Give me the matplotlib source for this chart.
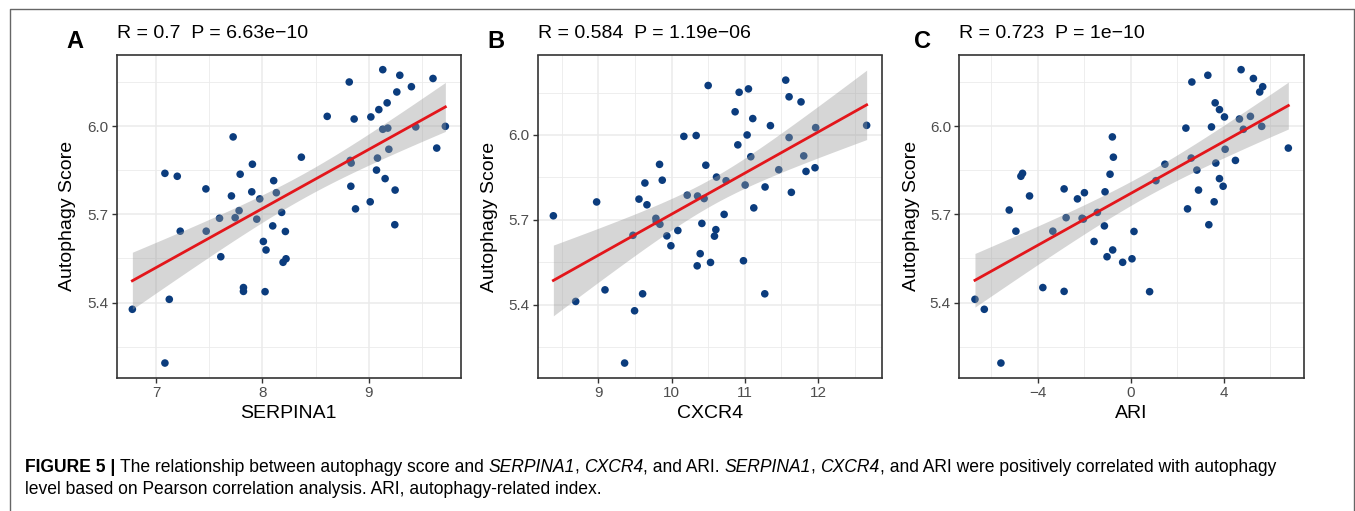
import numpy as np
import matplotlib
matplotlib.use("Agg")
import matplotlib.pyplot as plt
from matplotlib.lines import Line2D
from matplotlib.ticker import MultipleLocator

plt.rcParams["font.family"] = ["Liberation Sans", "DejaVu Sans"]

# values
serpina1 = [6.778, 7.084, 7.125, 7.084, 7.200, 7.228, 7.469, 7.472, 7.597, 7.609,
            7.709, 7.725, 7.744, 7.781, 7.791, 7.822, 7.822, 7.906, 7.900, 7.947,
            7.975, 8.009, 8.034, 8.025, 8.097, 8.106, 8.131, 8.181, 8.216, 8.194,
            8.222, 8.366, 8.609, 8.816, 8.825, 8.834, 8.831, 8.862, 8.875, 9.013,
            9.019, 9.081, 9.072, 9.094, 9.131, 9.131, 9.178, 9.172, 9.153, 9.188,
            9.247, 9.244, 9.263, 9.291, 9.400, 9.441, 9.603, 9.638, 9.719]
score_a = [5.377, 5.194, 5.411, 5.840, 5.830, 5.643, 5.787, 5.643, 5.687, 5.556,
           5.763, 5.964, 5.689, 5.713, 5.837, 5.451, 5.438, 5.871, 5.777, 5.684,
           5.753, 5.608, 5.579, 5.437, 5.661, 5.815, 5.774, 5.707, 5.642, 5.537,
           5.549, 5.895, 6.034, 6.151, 5.884, 5.875, 5.796, 6.025, 5.719, 5.743,
           6.032, 5.892, 5.851, 6.057, 6.193, 5.990, 5.994, 6.080, 5.822, 5.922,
           5.783, 5.665, 6.117, 6.174, 6.135, 5.998, 6.163, 5.926, 6.000]

cxcr4 = [8.386, 8.691, 8.977, 9.091, 9.359, 9.473, 9.495, 9.555, 9.605, 9.636,
         9.664, 9.786, 9.791, 9.841, 9.836, 9.873, 9.936, 9.991, 10.086, 10.168,
         10.214, 10.336, 10.355, 10.350, 10.391, 10.414, 10.445, 10.468, 10.500, 10.532,
         10.586, 10.605, 10.614, 10.718, 10.745, 10.868, 10.905, 10.923, 10.982, 11.005,
         11.032, 11.050, 11.082, 11.109, 11.123, 11.277, 11.273, 11.350, 11.464, 11.559,
         11.605, 11.605, 11.636, 11.768, 11.805, 11.836, 11.959, 11.968, 12.664]
score_b = [5.714, 5.411, 5.763, 5.452, 5.193, 5.645, 5.378, 5.773, 5.438, 5.830,
           5.753, 5.705, 5.694, 5.684, 5.896, 5.840, 5.643, 5.608, 5.662, 5.995,
           5.787, 5.998, 5.784, 5.537, 5.580, 5.687, 5.775, 5.893, 6.175, 5.549,
           5.642, 5.665, 5.851, 5.719, 5.838, 6.082, 5.965, 6.151, 5.555, 5.823,
           6.000, 6.163, 5.923, 6.058, 5.742, 5.816, 5.438, 6.033, 5.877, 6.194,
           6.135, 5.991, 5.797, 6.117, 5.926, 5.871, 5.884, 6.026, 6.034]

ari = [-6.710, -6.309, -5.594, -5.236, -4.950, -4.735, -4.664, -4.363, -3.791, -3.362,
       -2.876, -2.876, -2.790, -2.303, -2.103, -2.046, -2.003, -1.588, -1.445, -1.144,
       -1.116, -1.030, -0.901, -0.801, -0.758, -0.787, -0.358, 0.043, 0.129, 0.801,
       1.073, 1.459, 2.361, 2.432, 2.590, 2.618, 2.833, 2.904, 3.305, 3.348,
       3.462, 3.577, 3.620, 3.648, 3.805, 3.805, 3.963, 4.020, 4.049, 4.492,
       4.664, 4.735, 4.835, 5.136, 5.265, 5.536, 5.665, 5.622, 6.767]
score_c = [5.411, 5.377, 5.194, 5.715, 5.643, 5.830, 5.840, 5.763, 5.451, 5.643,
           5.787, 5.438, 5.689, 5.753, 5.687, 5.684, 5.774, 5.608, 5.707, 5.661,
           5.777, 5.556, 5.837, 5.964, 5.895, 5.579, 5.537, 5.549, 5.642, 5.437,
           5.815, 5.871, 5.994, 5.719, 5.892, 6.151, 5.851, 5.783, 6.174, 5.665,
           5.998, 5.743, 6.080, 5.875, 6.057, 5.822, 5.796, 6.032, 5.922, 5.884,
           6.025, 6.193, 5.990, 6.034, 6.163, 6.117, 6.135, 6.000, 5.926]

letters = ["A", "B", "C"]
titles = ["R = 0.7  P = 6.63e\u221210", "R = 0.584  P = 1.19e\u221206", "R = 0.723  P = 1e\u221210"]
xlabels = ["SERPINA1", "CXCR4", "ARI"]
xmajor = [1, 1, 4]
yticks = [5.4, 5.7, 6.0]

W, H = 1355, 511
POINT = "#0B3C7D"
RED = "#E3161B"
T975 = 2.002  # t quantile, df = 57

# panel boxes in pixels: left, right, top, bottom
boxes = [(116.7, 461.0, 55.0, 377.7), (537.7, 882.3, 55.5, 377.7), (959.3, 1304.0, 55.0, 377.7)]
letter_x = [66, 487, 914]
ylab_x = [68, 489, 911]


def fit_band(x, y, n=100):
    x = np.asarray(x)
    y = np.asarray(y)
    b, a = np.polyfit(x, y, 1)
    xs = np.linspace(x.min(), x.max(), n)
    s = np.sqrt(np.sum((y - a - b * x) ** 2) / (len(x) - 2))
    se = s * np.sqrt(1 / len(x) + (xs - x.mean()) ** 2 / np.sum((x - x.mean()) ** 2))
    fit = a + b * xs
    return xs, fit, fit - T975 * se, fit + T975 * se


def expand(lo, hi, f=0.05):
    d = (hi - lo) * f
    return lo - d, hi + d


def put_runs(fig, x_px, y_px, runs, size, family):
    # lay text pieces of mixed style side by side, return artists and right edge
    r = fig.canvas.get_renderer()
    x = x_px
    gap = size * 100 / 72 * 0.26
    arts = []
    for txt, weight, style in runs:
        if txt.startswith(" "):
            x += gap
            txt = txt.lstrip()
        t = fig.text(x / W, 1 - y_px / H, txt, fontsize=size, fontweight=weight,
                     fontstyle=style, family=family, va="center", ha="left")
        arts.append(t)
        x = t.get_window_extent(renderer=r).x1
    return arts, x


fig = plt.figure(figsize=(W / 100, H / 100), dpi=100)

data = [(serpina1, score_a), (cxcr4, score_b), (ari, score_c)]
for i, (xv, yv) in enumerate(data):
    l, r, t, b = boxes[i]
    ax = fig.add_axes([l / W, 1 - b / H, (r - l) / W, (b - t) / H])
    xs, fit, lo, hi = fit_band(xv, yv)

    ax.scatter(xv, yv, s=30, color=POINT, edgecolors="none", zorder=2)
    ax.fill_between(xs, lo, hi, color="#999999", alpha=0.4, lw=0, zorder=3)
    ax.plot(xs, fit, color=RED, lw=2, zorder=4)

    ax.set_xlim(*expand(min(xv), max(xv)))
    ax.set_ylim(*expand(min(min(yv), lo.min()), max(max(yv), hi.max())))
    ax.xaxis.set_major_locator(MultipleLocator(xmajor[i]))
    ax.xaxis.set_minor_locator(MultipleLocator(xmajor[i] / 2))
    ax.set_yticks(yticks)
    ax.set_yticklabels([f"{v:.1f}" for v in yticks])
    ax.yaxis.set_minor_locator(MultipleLocator(0.15))
    if i == 2:
        ax.set_xticklabels([lab.get_text().replace("-", "\u2212") for lab in ax.get_xticklabels()])

    ax.set_axisbelow(True)
    ax.grid(which="major", color="#EBEBEB", lw=1.1)
    ax.grid(which="minor", color="#EBEBEB", lw=0.6)
    for sp in ax.spines.values():
        sp.set_color("#333333")
        sp.set_linewidth(1.2)
    ax.tick_params(which="major", direction="out", length=3.5, width=1, color="#333333",
                   labelcolor="#4D4D4D", labelsize=11, pad=2.5)
    ax.tick_params(which="minor", length=0)

    fig.text(l / W, 1 - 34 / H, titles[i], fontsize=14, va="center", ha="left")
    fig.text(letter_x[i] / W, 1 - 42 / H, letters[i], fontsize=17, fontweight="bold",
             va="center", ha="left")
    fig.text(ylab_x[i] / W, 1 - (t + b) / 2 / H, "Autophagy Score", fontsize=14,
             rotation=90, va="center", ha="center")
    fig.text((l + r) / 2 / W, 1 - 413 / H, xlabels[i], fontsize=14, va="center", ha="center")

# caption, sized so that the first line ends where the reference's does
cap_font = ["Liberation Sans Narrow", "Liberation Sans"]
line1 = [("FIGURE 5 |", "bold", "normal"),
         (" The relationship between autophagy score and", "normal", "normal"),
         (" SERPINA1", "normal", "italic"), (",", "normal", "normal"),
         (" CXCR4", "normal", "italic"), (", and ARI.", "normal", "normal"),
         (" SERPINA1", "normal", "italic"), (",", "normal", "normal"),
         (" CXCR4", "normal", "italic"),
         (", and ARI were positively correlated with autophagy", "normal", "normal")]
line2 = [("level based on Pearson correlation analysis. ARI, autophagy-related index.",
          "normal", "normal")]
cap_x, cap_end = 25, 1281
size = 11.5
arts, right = put_runs(fig, cap_x, 467, line1, size, cap_font)
for a in arts:
    a.remove()
size = size * (cap_end - cap_x) / (right - cap_x)
put_runs(fig, cap_x, 467, line1, size, cap_font)
put_runs(fig, cap_x, 490, line2, size, cap_font)

# outer frame, open at the bottom
fx0, fx1, fy = 9.5, 1353.5, 9.0
fig.add_artist(Line2D([fx0 / W, fx0 / W, fx1 / W, fx1 / W], [0, 1 - fy / H, 1 - fy / H, 0],
                      transform=fig.transFigure, color="#666666", lw=1))

fig.savefig("out.png", dpi=100)
